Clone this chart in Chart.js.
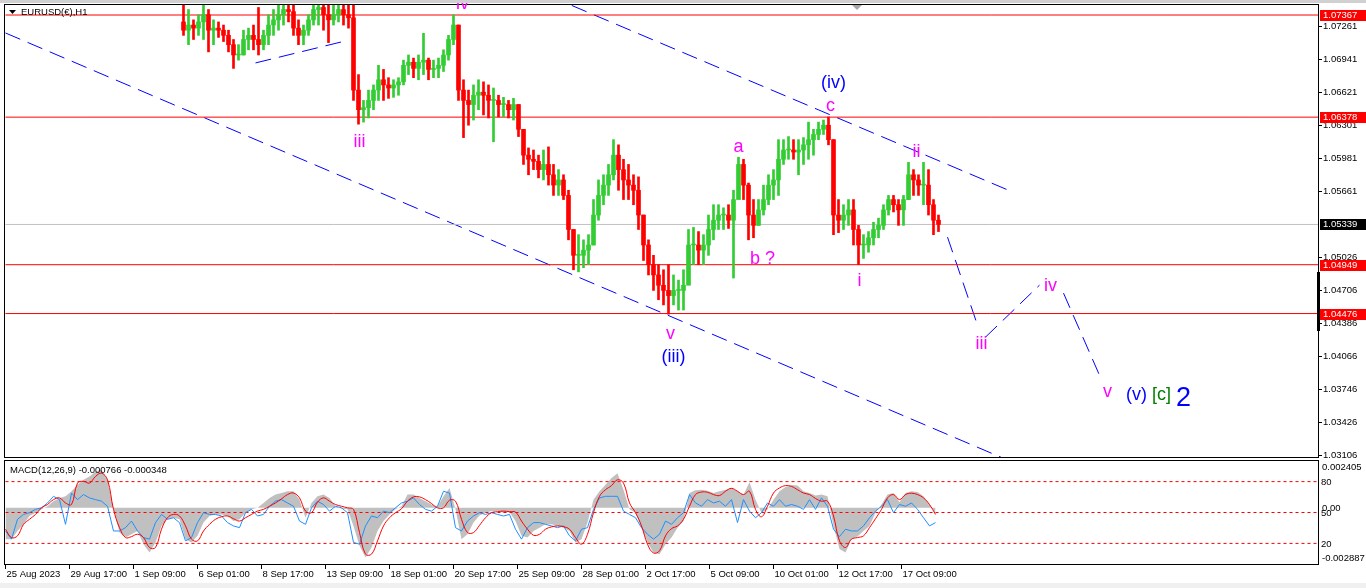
<!DOCTYPE html>
<html>
<head>
<meta charset="utf-8">
<script src="https://cdn.jsdelivr.net/npm/chart.js@4.4.1/dist/chart.umd.min.js"></script>
<style>
  html, body { margin: 0; padding: 0; background: #fff; }
  body { width: 1366px; height: 588px; position: relative; overflow: hidden; }
  #price { position: absolute; left: 0; top: 0; }
  #macd { position: absolute; left: 0; top: 458px; }
</style>
</head>
<body>
<canvas id="price" width="1366" height="458"></canvas>
<canvas id="macd" width="1366" height="130"></canvas>
<script>
// ---- chart text ----
const symbolTitle = 'EURUSD(€),H1';
const macdTitle = 'MACD(12,26,9) -0.000766 -0.000348';

// ---- time axis (hours from 25 Aug 2023, one H1 bar per hour) ----
const timeTickHours = [0, 64, 128, 192, 256, 320, 384, 448, 512, 576, 640, 704, 768, 832, 896];
const timeLabels = ['25 Aug 2023', '29 Aug 17:00', '1 Sep 09:00', '6 Sep 01:00', '8 Sep 17:00',
  '13 Sep 09:00', '18 Sep 01:00', '20 Sep 17:00', '25 Sep 09:00', '28 Sep 01:00',
  '2 Oct 17:00', '5 Oct 09:00', '10 Oct 01:00', '12 Oct 17:00', '17 Oct 09:00'];
const hourMax = 1313;

// ---- price bars (one bar every 5 hours) ----
const firstBarHour = 178;
const barStepHours = 5;
const firstOpen = 1.0730;
const highs = [
  1.0758, 1.0742, 1.0732, 1.0737, 1.0758, 1.0742, 1.0732, 1.0730, 1.0727, 1.0722,
  1.0713, 1.0708, 1.0722, 1.0724, 1.0727, 1.0744, 1.0722, 1.0737, 1.0742, 1.0747,
  1.0758, 1.0758, 1.0747, 1.0732, 1.0727, 1.0737, 1.0758, 1.0758, 1.0747, 1.0747,
  1.0747, 1.0758, 1.0758, 1.0747, 1.0747, 1.0679, 1.0654, 1.0664, 1.0669, 1.0688,
  1.0684, 1.0676, 1.0674, 1.0676, 1.0693, 1.0698, 1.0695, 1.0698, 1.0719, 1.0695,
  1.0693, 1.0695, 1.0703, 1.0717, 1.0737, 1.0727, 1.0674, 1.0664, 1.0669, 1.0674,
  1.0672, 1.0669, 1.0666, 1.0659, 1.0657, 1.0654, 1.0656, 1.0650, 1.0626, 1.0608,
  1.0606, 1.0601, 1.0606, 1.0609, 1.0592, 1.0587, 1.0582, 1.0567, 1.0529, 1.0524,
  1.0519, 1.0524, 1.0558, 1.0577, 1.0582, 1.0592, 1.0616, 1.0611, 1.0597, 1.0592,
  1.0582, 1.0580, 1.0543, 1.0519, 1.0504, 1.0495, 1.0490, 1.0495, 1.0485, 1.0480,
  1.0490, 1.0529, 1.0531, 1.0527, 1.0524, 1.0543, 1.0553, 1.0553, 1.0550, 1.0553,
  1.0567, 1.0599, 1.0597, 1.0574, 1.0558, 1.0558, 1.0572, 1.0582, 1.0587, 1.0616,
  1.0616, 1.0619, 1.0616, 1.0616, 1.0618, 1.0633, 1.0626, 1.0633, 1.0635, 1.0638,
  1.0616, 1.0558, 1.0553, 1.0558, 1.0558, 1.0533, 1.0524, 1.0527, 1.0536, 1.0540,
  1.0553, 1.0562, 1.0562, 1.0558, 1.0562, 1.0594, 1.0587, 1.0582, 1.0594, 1.0587,
  1.0558, 1.0543
];
const lows = [
  1.0717, 1.0708, 1.0713, 1.0717, 1.0713, 1.0701, 1.0708, 1.0715, 1.0711, 1.0701,
  1.0685, 1.0693, 1.0698, 1.0703, 1.0703, 1.0698, 1.0703, 1.0708, 1.0717, 1.0722,
  1.0727, 1.0730, 1.0717, 1.0708, 1.0708, 1.0717, 1.0727, 1.0727, 1.0722, 1.0710,
  1.0727, 1.0730, 1.0727, 1.0724, 1.0654, 1.0631, 1.0633, 1.0637, 1.0645, 1.0654,
  1.0654, 1.0656, 1.0657, 1.0659, 1.0669, 1.0679, 1.0676, 1.0674, 1.0679, 1.0674,
  1.0676, 1.0676, 1.0682, 1.0693, 1.0708, 1.0654, 1.0618, 1.0630, 1.0635, 1.0645,
  1.0640, 1.0637, 1.0614, 1.0638, 1.0638, 1.0637, 1.0635, 1.0619, 1.0592, 1.0582,
  1.0587, 1.0579, 1.0577, 1.0572, 1.0562, 1.0562, 1.0558, 1.0519, 1.0490, 1.0488,
  1.0492, 1.0495, 1.0514, 1.0538, 1.0553, 1.0562, 1.0577, 1.0567, 1.0558, 1.0558,
  1.0553, 1.0529, 1.0499, 1.0485, 1.0470, 1.0461, 1.0456, 1.0447, 1.0456, 1.0451,
  1.0451, 1.0480, 1.0495, 1.0495, 1.0495, 1.0504, 1.0519, 1.0529, 1.0529, 1.0530,
  1.0482, 1.0567, 1.0558, 1.0519, 1.0521, 1.0533, 1.0543, 1.0553, 1.0558, 1.0562,
  1.0592, 1.0597, 1.0597, 1.0582, 1.0592, 1.0597, 1.0601, 1.0616, 1.0621, 1.0611,
  1.0524, 1.0526, 1.0529, 1.0533, 1.0514, 1.0495, 1.0501, 1.0507, 1.0514, 1.0521,
  1.0529, 1.0543, 1.0546, 1.0533, 1.0533, 1.0558, 1.0562, 1.0562, 1.0553, 1.0543,
  1.0524, 1.0527
];
const closes = [
  1.0722, 1.0727, 1.0724, 1.0730, 1.0737, 1.0722, 1.0724, 1.0722, 1.0717, 1.0708,
  1.0698, 1.0698, 1.0713, 1.0717, 1.0713, 1.0708, 1.0717, 1.0727, 1.0732, 1.0737,
  1.0742, 1.0740, 1.0724, 1.0717, 1.0722, 1.0732, 1.0742, 1.0744, 1.0737, 1.0732,
  1.0737, 1.0742, 1.0737, 1.0734, 1.0664, 1.0645, 1.0647, 1.0654, 1.0664, 1.0674,
  1.0669, 1.0666, 1.0669, 1.0672, 1.0688, 1.0691, 1.0685, 1.0691, 1.0693, 1.0684,
  1.0685, 1.0688, 1.0698, 1.0713, 1.0727, 1.0664, 1.0654, 1.0650, 1.0659, 1.0662,
  1.0659, 1.0654, 1.0654, 1.0650, 1.0650, 1.0645, 1.0650, 1.0626, 1.0601, 1.0597,
  1.0595, 1.0587, 1.0592, 1.0582, 1.0572, 1.0577, 1.0562, 1.0529, 1.0504, 1.0504,
  1.0509, 1.0514, 1.0543, 1.0562, 1.0572, 1.0582, 1.0601, 1.0587, 1.0577, 1.0572,
  1.0567, 1.0543, 1.0514, 1.0495, 1.0485, 1.0475, 1.0470, 1.0465, 1.0470, 1.0470,
  1.0475, 1.0514, 1.0514, 1.0509, 1.0514, 1.0529, 1.0538, 1.0543, 1.0543, 1.0538,
  1.0558, 1.0592, 1.0572, 1.0543, 1.0533, 1.0548, 1.0558, 1.0572, 1.0577, 1.0597,
  1.0606, 1.0606, 1.0604, 1.0606, 1.0611, 1.0616, 1.0621, 1.0626, 1.0630, 1.0616,
  1.0543, 1.0538, 1.0543, 1.0548, 1.0529, 1.0514, 1.0514, 1.0521, 1.0529, 1.0533,
  1.0548, 1.0558, 1.0553, 1.0548, 1.0558, 1.0582, 1.0577, 1.0572, 1.0572, 1.0553,
  1.0538, 1.05339
];

// ---- price axis ----
const priceMin = 1.03087;
const priceMax = 1.07464;
const priceTicks = [1.07261, 1.06941, 1.06621, 1.06301, 1.05981, 1.05661, 1.05026,
  1.04706, 1.04386, 1.04066, 1.03746, 1.03426, 1.03106];
const levelPrices = [1.07367, 1.06378, 1.04949, 1.04476];
const currentPrice = 1.05339;

// ---- trend lines [hour, price] ----
const channelLower = [[0, 1.07193], [1100, 1.02653]];
const channelUpper = [[500, 1.07731], [1005, 1.05662]];
const wedgeLine = [[250, 1.06903], [340, 1.07116]];
const projection1 = [[942, 1.05216], [972, 1.04364]];
const projection2 = [[980, 1.04248], [1034, 1.04751]];
const projection3 = [[1058, 1.04674], [1094, 1.03879]];

// ---- wave labels ----
const waveTexts  = ['iii', 'iv', 'v', '(iii)', 'a', 'b ?', '(iv)', 'c', 'i', 'ii', 'iii', 'iv', 'v', '(v)', '[c]', '2'];
const waveHours  = [354, 457, 665, 668, 733, 757, 828, 825, 854, 911, 976, 1045, 1102, 1131, 1156, 1178];
const wavePrices = [1.06137, 1.07474, 1.04277, 1.04054, 1.06089, 1.05003, 1.06709, 1.06486,
  1.04790, 1.06040, 1.04180, 1.04742, 1.03715, 1.03685, 1.03685, 1.03651];
const waveKinds  = ['m', 'm', 'm', 'b', 'm', 'm', 'b', 'm', 'm', 'm', 'm', 'm', 'm', 'b', 'g', 'big'];

// ---- MACD panel (one sample every 6 hours) ----
const macdFirstHour = 0;
const macdStepHours = 6;
const macdMain = [
  -0.00161, -0.00161, -0.00119, -0.00085, -0.00042, -0.00025, -0.00008, 0.00008, 0.00034, 0.00051,
  0.00059, 0.00085, 0.00119, 0.00144, 0.00161, 0.00187, 0.00195, 0.00144, -0.00008, -0.00127,
  -0.00153, -0.00136, -0.00119, -0.00187, -0.00229, -0.00178, -0.00093, -0.00059, -0.00051, -0.00059,
  -0.00161, -0.00178, -0.00144, -0.00076, -0.00042, -0.00034, -0.00034, -0.00042, -0.00068, -0.00059,
  -0.00025, -0.00008, 0, 0.00025, 0.00051, 0.00068, 0.00076, 0.00085, 0.00085, 0.00042,
  -0.00051, 0.00025, 0.00059,
  0.00068, 0.00051, 0.00008, -0.00005, -0.00008, -0.00093, -0.00195, -0.00255, -0.00204, -0.00119,
  -0.00068, -0.00034, -0.00008, 0.00008, 0.00068, 0.00068, 0.00051, 0.00034, 0.00017, 0.00008,
  0.00059, 0.00102, -0.00008, -0.00161, -0.00136, -0.00076, -0.00039, -0.00025, -0.00017, -0.00017,
  -0.00025, -0.00022, -0.00068, -0.00144, -0.00153, -0.00119, -0.00102, -0.00085, -0.00085, -0.00093,
  -0.00102, -0.00119, -0.00178, -0.00161, -0.00076, 0.00042, 0.00085, 0.00119, 0.00153, 0.00178,
  0.00093, -0.00008,
  -0.00025, -0.00102, -0.00178, -0.00229, -0.00238, -0.00187, -0.00153, -0.00102, -0.00068, 0.00076,
  0.00090, 0.00093, 0.00088, 0.00076, 0.00085, 0.00093, 0.00102, 0.00085, 0.00068, 0.00131,
  0.00042, -0.00025, -0.00008, 0.00042, 0.00085, 0.00107, 0.00117, 0.00114, 0.00085, 0.00076,
  0.00063, 0.00068, 0.00059, -0.00093, -0.00212, -0.00229, -0.00161, -0.00148, -0.00119, -0.00093,
  -0.00025, 0.00017, 0.00068, 0.00076, 0.00029, 0.00076, 0.00085, 0.00081, 0.00059, 0.00017,
  -0.00034
];
const macdSignal = [
  -0.00110, -0.00153, -0.00144, -0.00085, -0.00059, -0.00034, 0, 0.00017, 0.00042, 0.00051,
  0.00025, 0.00017, 0.00127, 0.00136, 0.00127, 0.00161, 0.00178, 0.00144, -0.00008, -0.00102,
  -0.00153, -0.00148, -0.00136, -0.00153, -0.00204, -0.00204, -0.00110, -0.00051, -0.00034, -0.00042,
  -0.00093, -0.00161, -0.00170, -0.00119, -0.00085, -0.00059, -0.00046, -0.00042, -0.00056, -0.00068,
  -0.00051, -0.00034, -0.00017, -0.00008, 0.00008, 0.00025, 0.00046, 0.00068, 0.00076, 0.00051,
  -0.00017, -0.00025, 0.00029,
  0.00051, 0.00034, 0.00017, 0.00008, 0, -0.00008, -0.00127, -0.00238, -0.00238, -0.00170,
  -0.00093, -0.00051, -0.00025, -0.00005, 0.00034, 0.00056, 0.00056, 0.00042, 0.00022, 0,
  0, 0.00039, 0.00034, -0.00059, -0.00127, -0.00127, -0.00090, -0.00051, -0.00025, -0.00020,
  -0.00017, -0.00020, -0.00022, -0.00068, -0.00110, -0.00141, -0.00136, -0.00110, -0.00098, -0.00093,
  -0.00097, -0.00110, -0.00153, -0.00187, -0.00136, -0.00025, 0.00059, 0.00093, 0.00114, 0.00144,
  0.00127, 0.00025,
  -0.00025, -0.00093, -0.00187, -0.00232, -0.00221, -0.00144, -0.00107, -0.00093, -0.00059, 0.00008,
  0.00068, 0.00081, 0.00080, 0.00068, 0.00063, 0.00085, 0.00100, 0.00085, 0.00068, 0.00085,
  -0.00008, -0.00046, 0.00008, 0.00076, 0.00102, 0.00114, 0.00110, 0.00093, 0.00076, 0.00068,
  0.00048, 0.00034, 0.00034, -0.00042, -0.00170, -0.00204, -0.00161, -0.00153, -0.00144, -0.00102,
  -0.00056, -0.00008, 0.00051, 0.00068, 0.00042, 0.00068, 0.00075, 0.00068, 0.00051, 0.00017,
  -0.00034
];
const macdFast = [
  -0.00119, -0.00161, -0.00059, -0.00034, -0.00025, -0.00008, 0, 0.00025, 0.00059, 0.00042,
  -0.00085, 0.00076, 0.00042, 0.00068, 0.00051, 0.00042, 0.00034, 0.00008, -0.00119, -0.00119,
  -0.00102, -0.00068, -0.00119, -0.00153, -0.00161, -0.00076, -0.00034, -0.00059, -0.00051, -0.00076,
  -0.00170, -0.00153, -0.00076, -0.00025, -0.00034, -0.00034, -0.00042, -0.00076, -0.00093, -0.00102,
  -0.00025, -0.00008, -0.00042, -0.00034, 0.00008, 0.00034, 0.00042, 0.00025, 0.00008, -0.00068,
  -0.00085, 0, 0.00034,
  0.00017, -0.00017, 0.00008, 0, -0.00025, -0.00178, -0.00187, -0.00093, -0.00042, -0.00051,
  -0.00017, -0.00025, 0, 0.00025, 0.00034, 0.00051, 0.00017, -0.00008, -0.00017, 0.00008,
  0.00085, 0.00076, -0.00102, -0.00119, -0.00068, -0.00042, -0.00025, -0.00034, -0.00025, -0.00034,
  -0.00042, -0.00034, -0.00110, -0.00161, -0.00102, -0.00076, -0.00076, -0.00085, -0.00093, -0.00102,
  -0.00093, -0.00144, -0.00170, -0.00110, -0.00102, -0.00008, 0.00051, 0.00059, 0.00059, 0.00059,
  -0.00017, -0.00034,
  -0.00051, -0.00102, -0.00136, -0.00161, -0.00136, -0.00068, -0.00085, -0.00051, -0.00025, 0.00068,
  0.00025, 0.00008, 0.00042, 0.00025, 0.00034, 0.00008, 0.00042, -0.00076, 0.00042, -0.00017,
  -0.00051, -0.00025, 0.00025, 0.00008, 0.00042, 0.00008, 0.00017, 0.00008, -0.00008, 0.00042,
  -0.00008, 0.00051, 0.00008, -0.00110, -0.00148, -0.00110, -0.00119, -0.00119, -0.00093, -0.00051,
  -0.00017, 0.00008, 0.00042, -0.00025, 0.00017, 0.00008, 0.00025, -0.00008, -0.00051, -0.00093,
  -0.00076
];
const macdMax = 0.002405;
const macdMin = -0.002887;
const levelValues = [80, 50, 20];

// ---- styles ----
const bullColor = '#32cd32';
const bearColor = '#ff0000';
const waveColors = { m: '#ff00ff', b: '#0000ff', g: '#008000', big: '#0000ff' };
const axisFont = '9.5px "Liberation Sans", Arial, sans-serif';

// build bars
const bars = highs.map((h, i) => ({
  hour: firstBarHour + i * barStepHours,
  open: i === 0 ? firstOpen : closes[i - 1],
  high: h,
  low: lows[i],
  close: closes[i]
}));
const barColors = bars.map(b => (b.close >= b.open ? bullColor : bearColor));

const segment = (pts, color, dash) => ({
  type: 'line',
  data: pts.map(([h, p]) => ({ x: h, y: p })),
  borderColor: color,
  borderWidth: 1,
  borderDash: dash || [],
  pointRadius: 0,
  order: 4
});

const priceDecor = {
  id: 'priceDecor',
  afterDatasetsDraw(chart) {
    const { ctx, scales: { x, y } } = chart;
    ctx.save();
    ctx.strokeStyle = '#000';
    ctx.lineWidth = 1;
    ctx.strokeRect(4.5, 4.5, 1314, 453);

    // wave labels
    ctx.textAlign = 'center';
    ctx.textBaseline = 'middle';
    waveTexts.forEach((t, i) => {
      const k = waveKinds[i];
      ctx.font = (k === 'big' ? '27px' : '18px') + ' "Liberation Sans", Arial, sans-serif';
      ctx.fillStyle = waveColors[k];
      ctx.fillText(t, x.getPixelForValue(waveHours[i]), y.getPixelForValue(wavePrices[i]));
    });

    // price axis
    ctx.font = axisFont;
    ctx.textAlign = 'left';
    ctx.fillStyle = '#000';
    priceTicks.forEach(v => {
      const py = Math.round(y.getPixelForValue(v)) + 0.5;
      ctx.beginPath();
      ctx.moveTo(1318, py);
      ctx.lineTo(1322, py);
      ctx.stroke();
      ctx.fillText(v.toFixed(5), 1323, py);
    });
    const box = (v, bg) => {
      const py = Math.round(y.getPixelForValue(v));
      ctx.fillStyle = bg;
      ctx.fillRect(1320, py - 5, 46, 11);
      ctx.fillStyle = '#fff';
      ctx.fillText(v.toFixed(5), 1323, py + 0.5);
    };
    levelPrices.forEach(v => box(v, '#ff0000'));
    box(currentPrice, '#000');
    ctx.fillStyle = '#000';
    ctx.fillRect(1317, 272, 3, 59);

    // header
    ctx.beginPath();
    ctx.moveTo(9, 10);
    ctx.lineTo(16, 10);
    ctx.lineTo(12.5, 14);
    ctx.closePath();
    ctx.fill();
    ctx.fillText(symbolTitle, 21, 12.5);

    // shift marker
    ctx.fillStyle = '#a8a8a8';
    ctx.beginPath();
    ctx.moveTo(852, 5);
    ctx.lineTo(862, 5);
    ctx.lineTo(857, 10);
    ctx.closePath();
    ctx.fill();

    // window strip
    ctx.fillStyle = '#d0d0d0';
    ctx.fillRect(0, 0, 1366, 3);
    ctx.restore();
  }
};

new Chart(document.getElementById('price'), {
  type: 'bar',
  data: {
    datasets: [
      {
        type: 'bar',
        data: bars.map(b => ({ x: b.hour, y: [b.open, b.close] })),
        backgroundColor: barColors,
        barThickness: 4,
        minBarLength: 1,
        grouped: false,
        order: 0
      },
      {
        type: 'bar',
        data: bars.map(b => ({ x: b.hour, y: [b.low, b.high] })),
        backgroundColor: barColors,
        barThickness: 2,
        grouped: false,
        order: 1
      },
      ...levelPrices.map(v => segment([[0, v], [hourMax, v]], '#ff0000')),
      segment([[0, currentPrice], [hourMax, currentPrice]], '#c0c0c0'),
      segment(channelLower, '#0000ff', [16, 8]),
      segment(channelUpper, '#0000ff', [16, 8]),
      segment(wedgeLine, '#0000ff', [16, 8]),
      segment(projection1, '#0000ff', [16, 8]),
      segment(projection2, '#0000ff', [16, 8]),
      segment(projection3, '#0000ff', [16, 8])
    ]
  },
  options: {
    responsive: false,
    animation: false,
    events: [],
    layout: { padding: { left: 5, top: 5, right: 48, bottom: 1 } },
    scales: {
      x: { type: 'linear', min: -0.5, max: hourMax - 0.5, offset: false, display: false },
      y: { min: priceMin, max: priceMax, display: false }
    },
    plugins: { legend: { display: false }, tooltip: { enabled: false } }
  },
  plugins: [priceDecor]
});

// ---- MACD ----
const macdHours = macdMain.map((_, i) => macdFirstHour + i * macdStepHours);

const macdDecor = {
  id: 'macdDecor',
  afterDatasetsDraw(chart) {
    const { ctx, scales: { x, y, yLevel } } = chart;
    ctx.save();
    ctx.strokeStyle = '#000';
    ctx.lineWidth = 1;
    ctx.strokeRect(4.5, 2.5, 1314, 104);
    ctx.font = axisFont;
    ctx.fillStyle = '#000';
    ctx.textAlign = 'left';
    ctx.textBaseline = 'middle';
    ctx.fillText(macdTitle, 10, 12);

    ctx.fillText(macdMax.toFixed(6), 1322, 9);
    ctx.fillText(macdMin.toFixed(6), 1322, 100);
    ctx.fillText('0.00', 1322, y.getPixelForValue(0) + 0.5);
    levelValues.forEach(v => ctx.fillText(String(v), 1321, yLevel.getPixelForValue(v) + 1));

    timeTickHours.forEach((h, i) => {
      const px = Math.floor(x.getPixelForValue(h)) + 0.5;
      ctx.beginPath();
      ctx.moveTo(px, 107);
      ctx.lineTo(px, 111);
      ctx.stroke();
      ctx.fillText(timeLabels[i], px + 1, 116);
    });
    ctx.fillStyle = '#f0f0f0';
    ctx.fillRect(0, 125, 1366, 5);
    ctx.restore();
  }
};

new Chart(document.getElementById('macd'), {
  type: 'bar',
  data: {
    datasets: [
      {
        type: 'line',
        data: macdHours.map((h, i) => ({ x: h, y: macdSignal[i] })),
        borderColor: '#ff0000',
        borderWidth: 1,
        pointRadius: 0,
        tension: 0.4,
        order: 0
      },
      {
        type: 'line',
        data: macdHours.map((h, i) => ({ x: h, y: macdFast[i] })),
        borderColor: '#1e90ff',
        borderWidth: 1,
        pointRadius: 0,
        tension: 0,
        order: 1
      },
      ...levelValues.map(v => ({
        type: 'line',
        yAxisID: 'yLevel',
        data: [{ x: 0, y: v }, { x: hourMax, y: v }],
        borderColor: '#ff0000',
        borderWidth: 1,
        borderDash: [3, 3],
        pointRadius: 0,
        order: 2
      })),
      {
        type: 'line',
        data: macdHours.map((h, i) => ({ x: h, y: macdMain[i] })),
        borderWidth: 0,
        borderColor: 'rgba(0,0,0,0)',
        backgroundColor: '#c0c0c0',
        fill: 'origin',
        pointRadius: 0,
        tension: 0,
        order: 3
      }
    ]
  },
  options: {
    responsive: false,
    animation: false,
    events: [],
    layout: { padding: { left: 5, top: 3, right: 48, bottom: 24 } },
    scales: {
      x: { type: 'linear', min: -0.5, max: hourMax - 0.5, offset: false, display: false },
      y: { min: macdMin, max: macdMax, display: false },
      yLevel: { min: 0, max: 100, display: false }
    },
    plugins: { legend: { display: false }, tooltip: { enabled: false } }
  },
  plugins: [macdDecor]
});
</script>
</body>
</html>
